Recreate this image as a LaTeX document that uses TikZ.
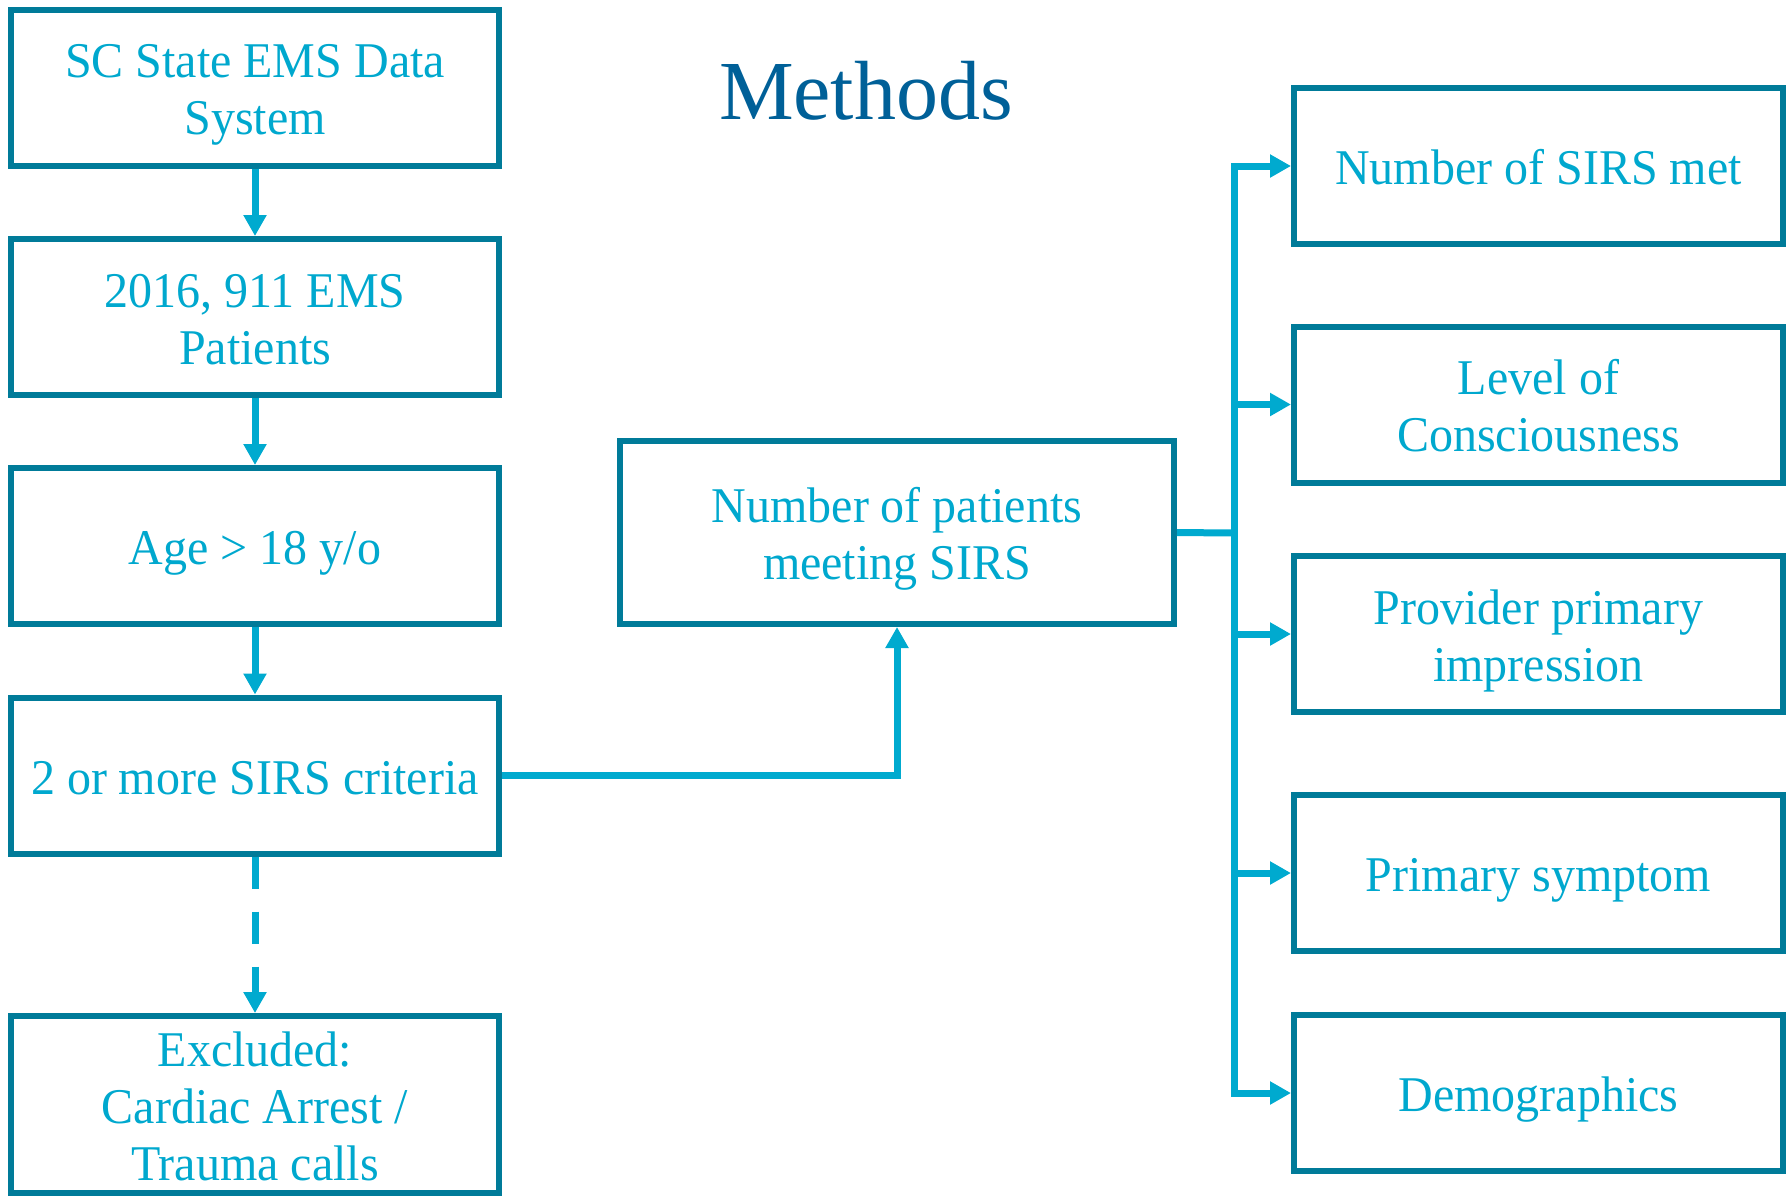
\documentclass[tikz,border=0pt]{standalone}
\usepackage{fontspec}
\setmainfont{Liberation Serif}
\newfontfamily\boxfont[FakeStretch=0.96]{Liberation Serif}
\usetikzlibrary{arrows.meta}
\definecolor{boxcol}{RGB}{0,123,153}
\definecolor{linecol}{RGB}{0,170,207}
\definecolor{txtcol}{RGB}{0,168,206}
\definecolor{titlecol}{RGB}{0,96,152}
\begin{document}
\begin{tikzpicture}[x=0.5pt,y=-0.5pt,
  box/.style={draw=boxcol, line width=3pt, inner sep=0pt, align=center,
    text=txtcol, text height=24pt, text depth=5.5pt,
    font=\boxfont\fontsize{25}{28.5}\selectfont},
  twolines/.style={text height=52.5pt},
  threelines/.style={text height=81pt},
  leftbox/.style={box, minimum width=244pt, minimum height=78pt},
  rightbox/.style={box, minimum width=244.5pt, minimum height=78pt},
  conn/.style={draw=linecol, line width=3.5pt},
  arr/.style={conn, -{Triangle[width=11pt,length=10.5pt]}}]
\useasboundingbox (0,0) rectangle (1787,1196);

% title
\node[font=\fontsize{42}{50}\selectfont, text=titlecol, anchor=base, inner sep=0pt]
  (title) at (866,119) {Methods};

% left column
\node[leftbox, twolines] (b1) at (255,87.5) {SC State EMS Data\\System};
\node[leftbox, twolines] (b2) at (255,317) {2016, 911 EMS\\Patients};
\node[leftbox] (b3) at (255,546) {Age > 18 y/o};
\node[leftbox] (b4) at (255,775.5) {2 or more SIRS criteria};
\node[leftbox, threelines, minimum height=88.5pt] (b5) at (255,1104.5)
  {Excluded:\\Cardiac Arrest /\\Trauma calls};

% centre box
\node[box, twolines, minimum width=277pt, minimum height=91.5pt] (mid) at (897,532.5)
  {Number of patients\\meeting SIRS};

% right column
\node[rightbox] (r1) at (1538.5,166) {Number of SIRS met};
\node[rightbox, twolines] (r2) at (1538.5,404.5) {Level of\\Consciousness};
\node[rightbox, twolines] (r3) at (1538.5,634) {Provider primary\\impression};
\node[rightbox] (r4) at (1538.5,873) {Primary symptom};
\node[rightbox] (r5) at (1538.5,1093) {Demographics};

% connectors
\draw[arr] (b1.south) -- (b2.north);
\draw[arr] (b2.south) -- (b3.north);
\draw[arr] (b3.south) -- (b4.north);
\draw[arr, dash pattern=on 16pt off 11.5pt] (b4.south) -- (b5.north);
\draw[arr] (b4.east) -| (mid.south);

\coordinate (bus) at (1234,533);
\draw[conn] (mid.east) -- (bus);
\draw[conn, line cap=rect] (bus |- r1.west) -- (bus |- r5.west);
\foreach \r in {r1,r2,r3,r4,r5}
  \draw[arr] (bus |- \r.west) -- (\r.west);
\end{tikzpicture}
\end{document}
